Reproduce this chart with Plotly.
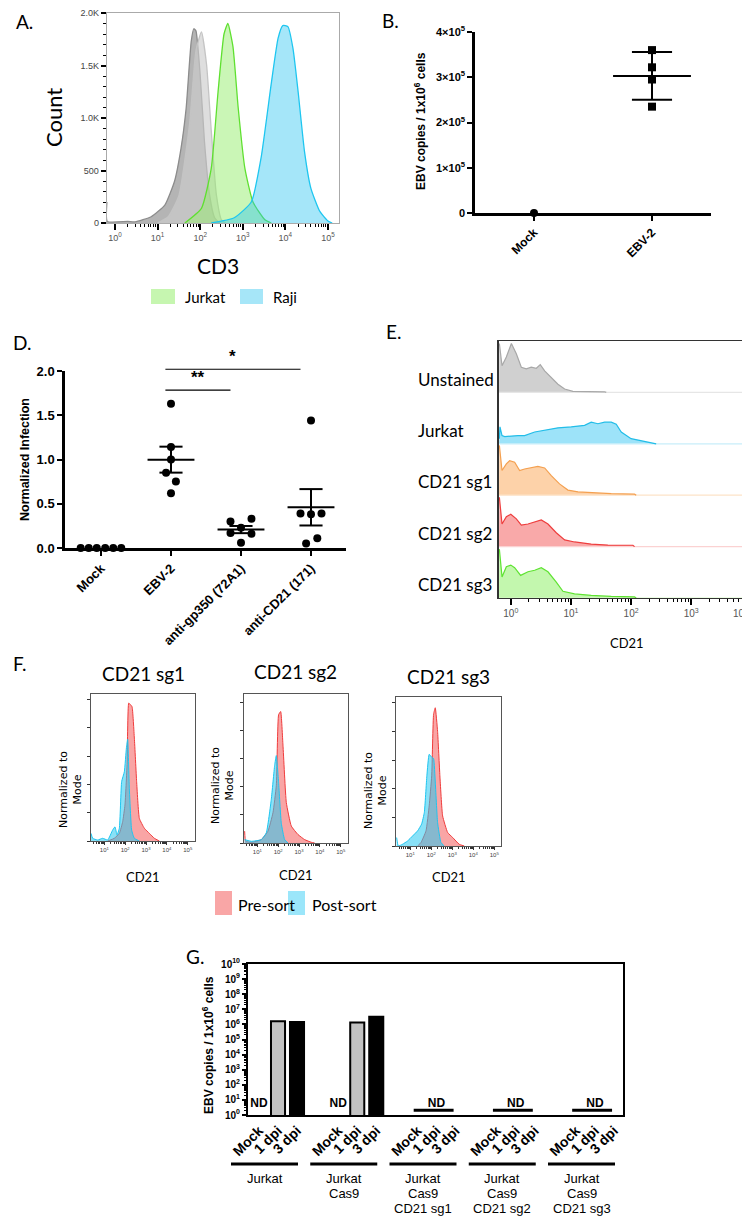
import numpy as np
import plotly.graph_objects as go

W, H = 750, 1216

# ================= DATA =================
# ---- Panel A: CD3 histograms (x = log10 CD3, y = count)
A_dark_log10 = [-0.19, -0.18, 0.3, 0.47, 0.85, 1.17, 1.4, 1.55, 1.67, 1.79, 1.85, 1.9, 2.0, 2.1, 2.22, 2.34, 2.46]
A_dark_count = [200, 15, 15, 10, 60, 170, 400, 710, 1090, 1730, 1850, 1830, 1410, 780, 270, 50, 0]
A_light_log10 = [1.0, 1.25, 1.5, 1.75, 1.9, 2.03, 2.15, 2.26, 2.38, 2.5, 2.6]
A_light_count = [0, 60, 260, 940, 1640, 1820, 1510, 880, 270, 30, 0]
A_jurkat_log10 = [1.64, 2.03, 2.26, 2.42, 2.56, 2.65, 2.77, 2.89, 3.05, 3.24, 3.52, 3.67]
A_jurkat_count = [0, 140, 520, 1250, 1800, 1900, 1680, 1110, 520, 200, 30, 0]
A_raji_log10 = [2.26, 2.8, 3.2, 3.43, 3.67, 3.83, 3.94, 4.06, 4.18, 4.3, 4.45, 4.6, 4.81, 5.0, 5.1]
A_raji_count = [0, 50, 200, 620, 1330, 1760, 1880, 1870, 1660, 1250, 680, 330, 110, 20, 0]
A_xtick_exp = [0, 1, 2, 3, 4, 5]
A_ytick_vals = [0, 500, 1000, 1500, 2000]
A_ytick_text = ["0", "500", "1.0K", "1.5K", "2.0K"]
A_legend = ["Jurkat", "Raji"]

# ---- Panel B
B_categories = ["Mock", "EBV-2"]
B_mock = [0]
B_ebv2 = [3.6e5, 3.22e5, 2.95e5, 2.35e5]
B_ytick_vals = [0, 1e5, 2e5, 3e5, 4e5]
B_ytick_text = ["0", "1×10<sup>5</sup>", "2×10<sup>5</sup>", "3×10<sup>5</sup>", "4×10<sup>5</sup>"]

# ---- Panel D
D_categories = ["Mock", "EBV-2", "anti-gp350 (72A1)", "anti-CD21 (171)"]
D_mock = [0, 0, 0, 0, 0, 0]
D_ebv2 = [1.63, 1.14, 1.0, 0.85, 0.75, 0.62]
D_gp350 = [0.30, 0.33, 0.23, 0.17, 0.16, 0.06]
D_cd21 = [1.44, 0.39, 0.39, 0.38, 0.11, 0.05]
D_ytick_vals = [0, 0.5, 1.0, 1.5, 2.0]
D_ytick_text = ["0.0", "0.5", "1.0", "1.5", "2.0"]
D_sig = [(1, 2, "**", 1.785), (1, 3, "*", 2.02)]

# ---- Panel E (x = log10 CD21, h = height as fraction of a row)
E_rows = ["Unstained", "Jurkat", "CD21 sg1", "CD21 sg2", "CD21 sg3"]
E_unstained_log10 = [-0.19, -0.146, -0.074, 0.01, 0.092, 0.175, 0.258, 0.34, 0.424, 0.49, 0.563, 0.673, 0.784, 0.895, 1.033, 1.56, 1.587]
E_unstained_h = [0.95, 0.52, 0.69, 0.95, 0.75, 0.49, 0.46, 0.49, 0.47, 0.54, 0.42, 0.29, 0.16, 0.065, 0.02, 0.012, 0.0]
E_jurkat_log10 = [-0.19, -0.18, -0.146, -0.1, 0.12, 0.23, 0.397, 0.563, 0.784, 1.005, 1.227, 1.337, 1.448, 1.56, 1.67, 1.753, 1.836, 2.0, 2.22, 2.417]
E_jurkat_h = [0.1, 0.33, 0.16, 0.14, 0.16, 0.16, 0.23, 0.26, 0.31, 0.33, 0.36, 0.42, 0.39, 0.42, 0.42, 0.38, 0.23, 0.10, 0.05, 0.0]
E_sg1_log10 = [-0.19, -0.146, -0.074, -0.019, 0.064, 0.147, 0.23, 0.34, 0.45, 0.563, 0.673, 0.81, 0.95, 1.116, 1.39, 1.67, 2.058, 2.085]
E_sg1_h = [0.97, 0.48, 0.61, 0.67, 0.64, 0.48, 0.51, 0.54, 0.56, 0.53, 0.38, 0.22, 0.10, 0.065, 0.045, 0.03, 0.02, 0.0]
E_sg2_log10 = [-0.19, -0.146, -0.074, 0.0, 0.092, 0.175, 0.286, 0.397, 0.507, 0.618, 0.756, 0.895, 1.06, 1.337, 1.615, 2.03, 2.058]
E_sg2_h = [0.96, 0.44, 0.58, 0.63, 0.54, 0.42, 0.44, 0.48, 0.52, 0.44, 0.27, 0.13, 0.09, 0.05, 0.03, 0.026, 0.0]
E_sg3_log10 = [-0.19, -0.146, -0.074, 0.0, 0.064, 0.164, 0.286, 0.397, 0.507, 0.618, 0.756, 0.867, 1.06, 1.337, 1.67, 2.058, 2.085]
E_sg3_h = [0.95, 0.41, 0.61, 0.64, 0.59, 0.44, 0.51, 0.54, 0.59, 0.51, 0.31, 0.13, 0.08, 0.05, 0.03, 0.02, 0.0]
E_xtick_exp = [0, 1, 2, 3, 4]

# ---- Panel F (x = log10 CD21, y = % of mode)
F_titles = ["CD21 sg1", "CD21 sg2", "CD21 sg3"]
F_legend = ["Pre-sort", "Post-sort"]
F_sg1_pre_log10 = [1.16, 1.48, 1.72, 1.88, 1.99, 2.09, 2.17, 2.25, 2.33, 2.44, 2.55, 2.68, 2.92, 3.16, 3.4, 3.64]
F_sg1_pre_y = [0, 1.9, 5.4, 13.7, 25.5, 54, 97.6, 96.5, 95, 72.8, 42, 16, 9, 5.4, 1.9, 0]
F_sg1_post_log10 = [0.36, 0.44, 0.68, 0.92, 1.16, 1.4, 1.51, 1.61, 1.72, 1.83, 1.96, 2.06, 2.12, 2.2, 2.31, 2.44, 2.68]
F_sg1_post_y = [5.4, 1.9, 0.7, 1.9, 0.7, 7.8, 10, 4.3, 9, 42, 49, 66, 72, 37, 7.8, 1.9, 0]
F_sg2_pre_log10 = [0.39, 0.44, 0.71, 1.19, 1.51, 1.75, 1.91, 2.02, 2.12, 2.23, 2.39, 2.63, 2.95, 3.27, 3.59, 3.75]
F_sg2_pre_y = [8.4, 1.2, 0.5, 2.4, 8.4, 21.5, 40.7, 91, 93.3, 69.4, 28.7, 12, 6, 2.4, 0.5, 0]
F_sg2_post_log10 = [0.39, 0.71, 1.19, 1.43, 1.67, 1.83, 1.91, 2.02, 2.15, 2.31, 2.47]
F_sg2_post_y = [2.4, 1.2, 2.4, 7.2, 31, 55, 62, 43, 14, 2.4, 0]
F_sg3_pre_log10 = [1.35, 1.51, 1.75, 1.9, 2.02, 2.11, 2.19, 2.3, 2.41, 2.54, 2.78, 3.02, 3.33, 3.57]
F_sg3_pre_y = [0, 2.4, 10.6, 28, 49, 92, 96.5, 80, 49, 21, 9.4, 5.9, 1.2, 0]
F_sg3_post_log10 = [0.35, 0.43, 0.63, 0.87, 1.11, 1.35, 1.54, 1.67, 1.79, 1.9, 2.02, 2.11, 2.19, 2.3, 2.46, 2.62]
F_sg3_post_y = [5.9, 0, 1.2, 3.5, 7, 10.6, 15.3, 23.5, 49, 64, 62, 61, 44.7, 16.5, 2.4, 0]
F_xtick_exp = [1, 2, 3, 4, 5]
F_ytick_vals = [0, 20, 40, 60, 80, 100]

# ---- Panel G
G_groups = [["Jurkat"], ["Jurkat", "Cas9"], ["Jurkat", "Cas9", "CD21 sg1"],
            ["Jurkat", "Cas9", "CD21 sg2"], ["Jurkat", "Cas9", "CD21 sg3"]]
G_conditions = ["Mock", "1 dpi", "3 dpi"]
G_1dpi = [1.6e6, 1.35e6, None, None, None]
G_3dpi = [1.45e6, 3.2e6, None, None, None]
G_nd_level = 2.1
G_ytick_exp = list(range(0, 11))

# ================= HELPERS =================
FS = "Lato, 'Open Sans', sans-serif"
FA = "'Liberation Sans', Arial, sans-serif"
FD = "'DejaVu Sans', Verdana, sans-serif"


def dx(a, b):
    return [a / W, b / W]


def dy(top, bot):
    return [1 - bot / H, 1 - top / H]


def PX(px):
    return px / W


def PY(py):
    return 1 - py / H


ann = []
shapes = []


def text(t, x, y, size, family=FS, color="black", bold=False, angle=0,
         xanchor="center", yanchor="middle", xref="paper", yref="paper", raw=False):
    ann.append(dict(text=t, x=x if raw else PX(x), y=y if (raw or yref != "paper") else PY(y),
                    xref=xref, yref=yref, showarrow=False, textangle=angle,
                    xanchor=xanchor, yanchor=yanchor,
                    font=dict(size=size, family=family, color=color,
                              weight="bold" if bold else "normal")))


def rect(x0, y0, x1, y1, color):
    shapes.append(dict(type="rect", xref="paper", yref="paper", x0=PX(x0), x1=PX(x1),
                       y0=PY(y1), y1=PY(y0), fillcolor=color, line=dict(width=0)))


def hline(x0, x1, y, width, color="black"):
    shapes.append(dict(type="line", xref="paper", yref="paper", x0=PX(x0), x1=PX(x1),
                       y0=PY(y), y1=PY(y), line=dict(color=color, width=width)))


def base_axis(**kw):
    d = dict(showgrid=False, zeroline=False, automargin=False, fixedrange=True)
    d.update(kw)
    return d


def log_minor(lo, hi):
    return [k * 10.0 ** n for n in range(lo, hi) for k in range(2, 10)]


def suplabels(exps):
    return ["10<sup>%d</sup>" % e for e in exps]


fig = go.Figure()
L = {}

# ================= PANEL A =================
A_curves = [
    (A_dark_log10, A_dark_count, "rgba(140,140,140,0.65)", "#8c8c8c"),
    (A_light_log10, A_light_count, "rgba(205,205,205,0.65)", "#c4c4c4"),
    (A_jurkat_log10, A_jurkat_count, "rgba(150,238,110,0.5)", "#5fe030"),
    (A_raji_log10, A_raji_count, "rgba(40,195,240,0.42)", "#1ec6f0"),
]
for xs, ys, fc, lc in A_curves:
    fig.add_trace(go.Scatter(x=10 ** np.array(xs), y=ys, mode="lines", fill="tozeroy",
                             fillcolor=fc, line=dict(color=lc, width=1.3, shape="spline", smoothing=0.5),
                             xaxis="x", yaxis="y", hoverinfo="skip"))
L["xaxis"] = base_axis(domain=dx(98.7, 331), anchor="y", type="log", range=[-0.195, 5.26],
                       tickmode="array", tickvals=[10.0 ** e for e in A_xtick_exp],
                       ticktext=suplabels(A_xtick_exp), tickfont=dict(size=9, color="#555", family=FA),
                       ticks="outside", ticklen=6, tickwidth=2, tickcolor="black",
                       minor=dict(ticks="outside", ticklen=3, tickwidth=1, tickcolor="black",
                                  tickmode="array", tickvals=log_minor(0, 5)),
                       showline=True, linecolor="#aaaaaa", linewidth=1, mirror=True)
L["yaxis"] = base_axis(domain=dy(5, 215), anchor="x", range=[0, 2000],
                       tickmode="array", tickvals=A_ytick_vals, ticktext=A_ytick_text,
                       tickfont=dict(size=9, color="#444", family=FA),
                       ticks="outside", ticklen=5, tickwidth=2, tickcolor="black",
                       minor=dict(ticks="outside", ticklen=3, tickwidth=1, tickcolor="black", dtick=100),
                       showline=True, linecolor="#aaaaaa", linewidth=1, mirror=True)
text("A.", 6, 14, 19, xanchor="left")
text("Count", 45, 110, 22, angle=-90)
text("CD3", 210, 257, 21)
rect(143, 281, 167, 296, "#c6f6b0")
rect(232, 281, 255, 296, "#a6e6f8")
text(A_legend[0], 175, 289, 15, xanchor="left")
text(A_legend[1], 263, 289, 15, xanchor="left")

# ================= PANEL B =================
fig.add_trace(go.Scatter(x=[0] * len(B_mock), y=B_mock, mode="markers",
                         marker=dict(symbol="circle", size=8, color="black"),
                         xaxis="x2", yaxis="y2", cliponaxis=False, hoverinfo="skip"))
fig.add_trace(go.Scatter(x=[1] * len(B_ebv2), y=B_ebv2, mode="markers",
                         marker=dict(symbol="square", size=8, color="black"),
                         xaxis="x2", yaxis="y2", cliponaxis=False, hoverinfo="skip"))
bm, bs = np.mean(B_ebv2), np.std(B_ebv2, ddof=1)
for xs, ys in [([1 - 0.33, 1 + 0.33], [bm, bm]), ([1, 1], [bm - bs, bm + bs]),
               ([1 - 0.17, 1 + 0.17], [bm - bs, bm - bs]), ([1 - 0.17, 1 + 0.17], [bm + bs, bm + bs])]:
    fig.add_trace(go.Scatter(x=xs, y=ys, mode="lines", line=dict(color="black", width=2),
                             xaxis="x2", yaxis="y2", hoverinfo="skip"))
L["xaxis2"] = base_axis(domain=dx(467, 703), anchor="y2", range=[-0.5, 1.5],
                        tickmode="array", tickvals=[0, 1], ticktext=B_categories, tickangle=-45,
                        tickfont=dict(size=12, family=FA, color="black", weight="bold"),
                        ticks="outside", ticklen=5, tickwidth=2, tickcolor="black",
                        showline=True, linecolor="black", linewidth=2.5, layer="below traces")
L["yaxis2"] = base_axis(domain=dy(24, 205), anchor="x2", range=[0, 4e5],
                        tickmode="array", tickvals=B_ytick_vals, ticktext=B_ytick_text,
                        tickfont=dict(size=11, family=FA, color="black", weight="bold"),
                        ticks="outside", ticklen=5, tickwidth=2, tickcolor="black",
                        showline=True, linecolor="black", linewidth=2.5, layer="below traces")
text("B.", 372, 13, 19, xanchor="left")
text("EBV copies / 1x10<sup>6</sup> cells", 412, 113, 12, family=FA, bold=True, angle=-90)

# ================= PANEL D =================
D_xdom, D_ydom = (57, 338), (363, 540)
D_xr, D_yr = (-0.514, 3.5), (0.0, 2.0)


def d_px(v):
    return D_xdom[0] + (v - D_xr[0]) / (D_xr[1] - D_xr[0]) * (D_xdom[1] - D_xdom[0])


def d_py(v):
    return D_ydom[1] - (v - D_yr[0]) / (D_yr[1] - D_yr[0]) * (D_ydom[1] - D_ydom[0])


D_series = [D_mock, D_ebv2, D_gp350, D_cd21]
D_jitter = [[-0.29, -0.175, -0.06, 0.06, 0.175, 0.29],
            [0, 0, 0, -0.07, 0.07, 0],
            [-0.15, 0.15, 0, -0.15, 0.15, 0],
            [0, -0.15, 0.15, 0, 0.09, -0.07]]
for i, vals in enumerate(D_series):
    fig.add_trace(go.Scatter(x=[i + j for j in D_jitter[i]], y=vals, mode="markers",
                             marker=dict(symbol="circle", size=8, color="black"),
                             xaxis="x3", yaxis="y3", cliponaxis=False, hoverinfo="skip"))
    m = np.mean(vals)
    se = np.std(vals, ddof=1) / np.sqrt(len(vals))
    if m == 0:
        continue
    for xs, ys in [([i - 0.335, i + 0.335], [m, m]), ([i, i], [m - se, m + se]),
                   ([i - 0.165, i + 0.165], [m - se, m - se]), ([i - 0.165, i + 0.165], [m + se, m + se])]:
        fig.add_trace(go.Scatter(x=xs, y=ys, mode="lines", line=dict(color="black", width=2),
                                 xaxis="x3", yaxis="y3", hoverinfo="skip"))
for a, b, star, yv in D_sig:
    xa, xb = d_px(a - 0.08), d_px(b - 0.15)
    hline(xa, xb, d_py(yv), 1.2)
    text(star, (xa + xb) / 2, d_py(yv) - 1, 17, family=FA, bold=True, yanchor="bottom")
L["xaxis3"] = base_axis(domain=dx(*D_xdom), anchor="y3", range=list(D_xr),
                        tickmode="array", tickvals=[0, 1, 2, 3], ticktext=D_categories, tickangle=-45,
                        tickfont=dict(size=13, family=FA, color="black", weight="bold"),
                        ticks="outside", ticklen=5, tickwidth=2, tickcolor="black",
                        showline=True, linecolor="black", linewidth=2.5, layer="below traces")
L["yaxis3"] = base_axis(domain=dy(*D_ydom), anchor="x3", range=list(D_yr),
                        tickmode="array", tickvals=D_ytick_vals, ticktext=D_ytick_text,
                        tickfont=dict(size=13, family=FA, color="black", weight="bold"),
                        ticks="outside", ticklen=5, tickwidth=2, tickcolor="black",
                        showline=True, linecolor="black", linewidth=2.5, layer="below traces")
text("D.", 3, 334, 19, xanchor="left")
text("Normalized Infection", 17, 452, 12.5, family=FA, bold=True, angle=-90)

# ================= PANEL E =================
E_curves = [
    (E_unstained_log10, E_unstained_h, "rgba(200,200,200,0.85)", "#a8a8a8", "#e6e6e6"),
    (E_jurkat_log10, E_jurkat_h, "rgba(140,222,248,0.85)", "#22bde8", "#c8eefa"),
    (E_sg1_log10, E_sg1_h, "rgba(253,205,160,0.9)", "#f4a050", "#fde3c8"),
    (E_sg2_log10, E_sg2_h, "rgba(248,160,160,0.9)", "#ee3e3e", "#fbd2d2"),
    (E_sg3_log10, E_sg3_h, "rgba(188,246,165,0.9)", "#5fe332", "#d8fbc8"),
]
E_xlo, E_xhi = -0.196, 4.06
E_xdom, E_ydom = (491, 747), (333, 590)
for i, (xs, hs, fc, lc, bc) in enumerate(E_curves):
    base = len(E_curves) - 1 - i
    fig.add_trace(go.Scatter(x=[10 ** E_xlo, 10 ** E_xhi], y=[base, base], mode="lines",
                             line=dict(color=bc, width=1.2), xaxis="x4", yaxis="y4", hoverinfo="skip"))
    fig.add_trace(go.Scatter(x=10 ** np.array(xs), y=[base + h for h in hs], mode="lines",
                             fill="tonexty", fillcolor=fc, line=dict(color=lc, width=1.2),
                             xaxis="x4", yaxis="y4", hoverinfo="skip"))
    text(E_rows[i], PX(408), base + 0.26, 17, xanchor="left", yref="y4", raw=True)
E_ticktext = suplabels(E_xtick_exp)
E_last = E_ticktext[-1]
E_ticktext[-1] = ""          # last label drawn right-aligned inside the page below
L["xaxis4"] = base_axis(domain=dx(*E_xdom), anchor="y4", type="log", range=[E_xlo, E_xhi],
                        tickmode="array", tickvals=[10.0 ** e for e in E_xtick_exp],
                        ticktext=E_ticktext, tickfont=dict(size=10, color="#555", family=FA),
                        ticks="outside", ticklen=6, tickwidth=1.5, tickcolor="black",
                        minor=dict(ticks="outside", ticklen=3, tickwidth=1, tickcolor="black",
                                   tickmode="array", tickvals=log_minor(0, 4)),
                        showline=True, linecolor="#333", linewidth=1.2, mirror=True)
L["yaxis4"] = base_axis(domain=dy(*E_ydom), anchor="x4", range=[0, 5], showticklabels=False,
                        ticks="", showline=True, linecolor="#333", linewidth=1.5, mirror=True)
text(E_last, 742, 605, 10, family=FA, color="#555", xanchor="right")
text("E.", 376, 323, 19, xanchor="left")
text("CD21", 619, 635, 13)

# ================= PANEL F =================
F_data = [
    (F_sg1_pre_log10, F_sg1_pre_y, F_sg1_post_log10, F_sg1_post_y),
    (F_sg2_pre_log10, F_sg2_pre_y, F_sg2_post_log10, F_sg2_post_y),
    (F_sg3_pre_log10, F_sg3_pre_y, F_sg3_post_log10, F_sg3_post_y),
]
F_boxes = [((83, 187), (686, 833), [0.36, 5.35], 104),
           ((236, 340), (686, 835), [0.36, 5.35], 105.7),
           ((388, 493), (689, 838), [0.32, 5.32], 104)]
F_title_pos = [(135, 665), (287, 663), (440, 668)]
F_ylab_pos = [(62, 782), (214, 778), (367, 783)]
F_xlab_pos = [(135, 869), (288, 867), (441, 869)]
for k, (px_, py_, py2, pyy) in enumerate(F_data):
    xa, ya = "x%d" % (5 + k), "y%d" % (5 + k)
    fig.add_trace(go.Scatter(x=10 ** np.array(px_), y=py_, mode="lines", fill="tozeroy",
                             fillcolor="rgba(245,110,110,0.62)",
                             line=dict(color="#f03c3c", width=1, shape="spline", smoothing=0.4),
                             xaxis=xa, yaxis=ya, hoverinfo="skip"))
    fig.add_trace(go.Scatter(x=10 ** np.array(py2), y=pyy, mode="lines", fill="tozeroy",
                             fillcolor="rgba(40,200,240,0.55)",
                             line=dict(color="#1ec5f0", width=1, shape="spline", smoothing=0.4),
                             xaxis=xa, yaxis=ya, hoverinfo="skip"))
    (x0, x1), (y0, y1), xr, ytop = F_boxes[k]
    L["xaxis%d" % (5 + k)] = base_axis(domain=dx(x0, x1), anchor=ya, type="log", range=xr,
                                       tickmode="array", tickvals=[10.0 ** e for e in F_xtick_exp],
                                       ticktext=suplabels(F_xtick_exp),
                                       tickfont=dict(size=6, color="#444", family=FA),
                                       ticks="outside", ticklen=3, tickwidth=1, tickcolor="#333",
                                       minor=dict(ticks="outside", ticklen=2, tickwidth=0.8, tickcolor="#333",
                                                  tickmode="array", tickvals=log_minor(0, 5)),
                                       showline=True, linecolor="#555", linewidth=1, mirror=True)
    L["yaxis%d" % (5 + k)] = base_axis(domain=dy(y0, y1), anchor=xa, range=[0, ytop],
                                       tickmode="array", tickvals=F_ytick_vals, showticklabels=False,
                                       ticks="outside", ticklen=3, tickwidth=1, tickcolor="#333",
                                       showline=True, linecolor="#555", linewidth=1, mirror=True)
    text(F_titles[k], F_title_pos[k][0], F_title_pos[k][1], 19)
    text("Normalized to<br>Mode", F_ylab_pos[k][0], F_ylab_pos[k][1], 11, family=FD, angle=-90)
    text("CD21", F_xlab_pos[k][0], F_xlab_pos[k][1], 13)
text("F.", 3, 655, 19, xanchor="left")
rect(207, 883, 224, 907, "#f9a6a6")
rect(280, 883, 297, 907, "#9be6fa")
text(F_legend[0], 228, 896, 16, xanchor="left")
text(F_legend[1], 302, 896, 16, xanchor="left")

# ================= PANEL G =================
G_gap = 79.25 / 19.0


def slot(g, i):
    return g * G_gap + i


G_slots = [slot(g, i) for g in range(len(G_groups)) for i in range(3)]
fig.add_trace(go.Bar(x=[slot(g, 1) for g in range(len(G_groups))], y=G_1dpi, width=0.74,
                     marker=dict(color="#c2c2c2", line=dict(color="black", width=2)),
                     xaxis="x8", yaxis="y8", hoverinfo="skip"))
fig.add_trace(go.Bar(x=[slot(g, 2) for g in range(len(G_groups))], y=G_3dpi, width=0.74,
                     marker=dict(color="black", line=dict(color="black", width=2)),
                     xaxis="x8", yaxis="y8", hoverinfo="skip"))
nd_x, nd_y = [], []
for g in range(len(G_groups)):
    if G_1dpi[g] is None and G_3dpi[g] is None:
        fig.add_trace(go.Scatter(x=[slot(g, 0) - 0.2, slot(g, 2) - 0.1], y=[G_nd_level, G_nd_level],
                                 mode="lines", line=dict(color="black", width=3),
                                 xaxis="x8", yaxis="y8", hoverinfo="skip"))
        nd_x.append(slot(g, 1))
    else:
        nd_x.append(slot(g, 0))
    nd_y.append(10 ** 0.75)
fig.add_trace(go.Scatter(x=nd_x, y=nd_y, mode="text", text=["ND"] * len(nd_x),
                         textfont=dict(size=12, family=FA, color="black", weight="bold"),
                         xaxis="x8", yaxis="y8", cliponaxis=False, hoverinfo="skip"))
L["xaxis8"] = base_axis(domain=dx(240, 615), anchor="y8", range=[-0.58, 19.16],
                        tickmode="array", tickvals=G_slots, ticktext=G_conditions * len(G_groups),
                        tickangle=-45, tickfont=dict(size=14, family=FA, color="black", weight="bold"),
                        ticks="", showline=True, linecolor="black", linewidth=2, mirror=True)
L["yaxis8"] = base_axis(domain=dy(956, 1107), anchor="x8", type="log", range=[0, 10],
                        tickmode="array", tickvals=[10.0 ** e for e in G_ytick_exp],
                        ticktext=suplabels(G_ytick_exp),
                        tickfont=dict(size=10, family=FA, color="black", weight="bold"),
                        ticks="outside", ticklen=4, tickwidth=1.5, tickcolor="black",
                        minor=dict(ticks="outside", ticklen=2, tickwidth=1, tickcolor="black",
                                   tickmode="array", tickvals=log_minor(0, 10)),
                        showline=True, linecolor="black", linewidth=2, mirror=True)
for g, lines in enumerate(G_groups):
    x0 = 223 + g * 79.25
    hline(x0, x0 + 67, 1156, 3)
    for j, ln in enumerate(lines):
        text(ln, x0 + 33.5, 1170 + 15 * j, 13, family=FA)
text("G.", 176, 948, 19, xanchor="left")
text("EBV copies / 1x10<sup>6</sup> cells", 200, 1037, 12, family=FA, bold=True, angle=-90)

# ================= LAYOUT =================
fig.update_layout(width=W, height=H, autosize=False, margin=dict(l=0, r=0, t=0, b=0, pad=0),
                  template="none", paper_bgcolor="white", plot_bgcolor="white",
                  showlegend=False, hovermode=False, barmode="overlay",
                  annotations=ann, shapes=shapes, **L)
fig.write_html("out.html")
